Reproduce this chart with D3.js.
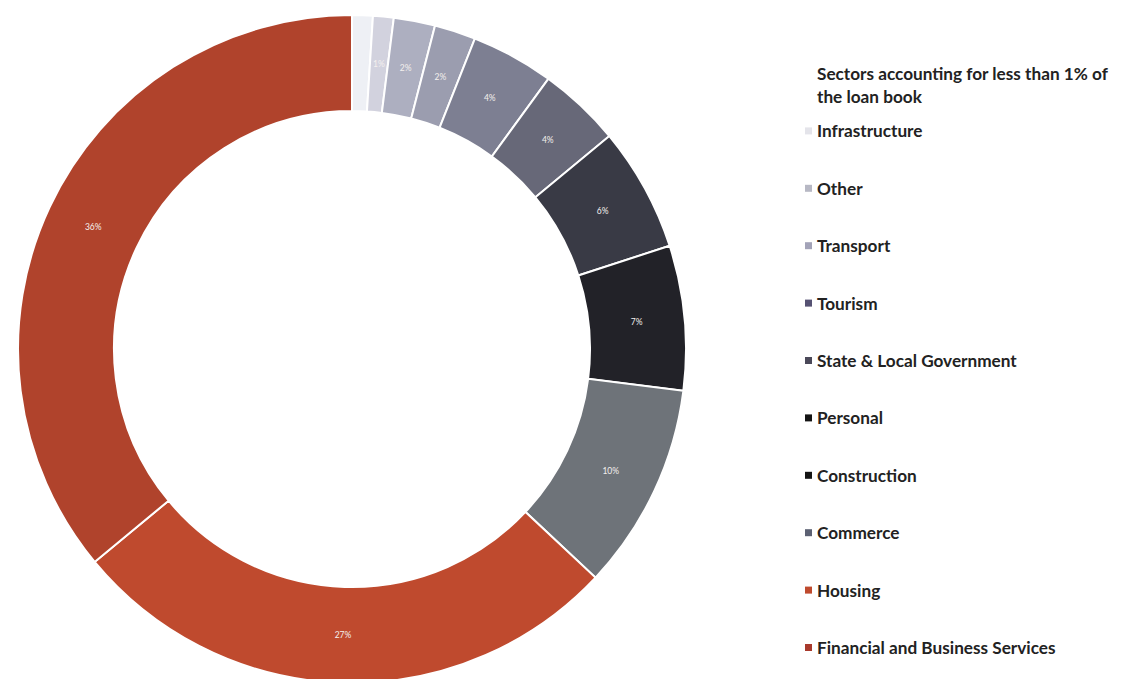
<!DOCTYPE html>
<html>
<head>
<meta charset="utf-8">
<script src="https://cdn.jsdelivr.net/npm/d3@7"></script>
<style>
    body { margin: 0; background: #fff; }
    .legend { font-family: Lato, "Open Sans", sans-serif; font-weight: bold; font-size: 17.2px; fill: #222; }
    .slice-label { font-family: Lato, sans-serif; font-size: 8.5px; fill: #f4f0ee; }
</style>
</head>
<body>
<svg id="chart"></svg>
<script>
// sectors, clockwise from the top of the ring
var sectors = ['Sectors accounting for less than 1% of the loan book', 'Infrastructure', 'Other', 'Transport',
    'Tourism', 'State & Local Government', 'Personal', 'Construction', 'Commerce', 'Housing',
    'Financial and Business Services'];
var shares = [1, 1, 2, 2, 4, 4, 6, 7, 10, 27, 36];
var sliceLabels = ['', '1%', '2%', '2%', '4%', '4%', '6%', '7%', '10%', '27%', '36%'];
var colours = ['#eef0f5', '#d2d2de', '#adafc0', '#9b9daf', '#7d7f92', '#676878', '#393a45', '#222228',
    '#6e7379', '#bf4a2e', '#b0432c'];
var markerColours = ['#ffffff', '#e4e4ea', '#b7b8c4', '#a3a3b8', '#565273', '#4b4959', '#141414', '#141414',
    '#5c6173', '#bf4a2e', '#a8392c'];

var width = 1122, height = 679;
var svg = d3.select('#chart')
    .attr('width', width)
    .attr('height', height);

var cx = 352, cy = 349;
var outer = 334, inner = 238;

var pie = d3.pie().sort(null).value(d => d);
var arc = d3.arc().innerRadius(inner).outerRadius(outer);
var labelArc = d3.arc().innerRadius((inner + outer) / 2).outerRadius((inner + outer) / 2);

var ring = svg.append('g')
    .attr('transform', `translate(${cx}, ${cy})`);

var arcs = pie(shares);

ring.selectAll('path')
    .data(arcs)
    .enter()
    .append('path')
    .attr('d', arc)
    .attr('fill', (d, i) => colours[i])
    .attr('stroke', '#fff')
    .attr('stroke-width', 2);

ring.selectAll('text')
    .data(arcs)
    .enter()
    .append('text')
    .classed('slice-label', true)
    .attr('transform', d => `translate(${labelArc.centroid(d)})`)
    .attr('text-anchor', 'middle')
    .attr('dy', '0.35em')
    .text((d, i) => sliceLabels[i]);

// Legend
var legendX = 817, legendTop = 74, rowGap = 57.4;
var legend = svg.append('g');

sectors.forEach(function (name, i) {
    var y = legendTop + i * rowGap;
    legend.append('rect')
        .attr('x', legendX - 12)
        .attr('y', y - 4)
        .attr('width', 7)
        .attr('height', 7)
        .attr('fill', markerColours[i]);
    var t = legend.append('text')
        .classed('legend', true)
        .attr('x', legendX)
        .attr('y', y + 6);
    if (i === 0) {
        t.append('tspan').attr('x', legendX).text('Sectors accounting for less than 1% of');
        t.append('tspan').attr('x', legendX).attr('dy', 23).text('the loan book');
    } else {
        t.text(name);
    }
});
</script>
</body>
</html>
